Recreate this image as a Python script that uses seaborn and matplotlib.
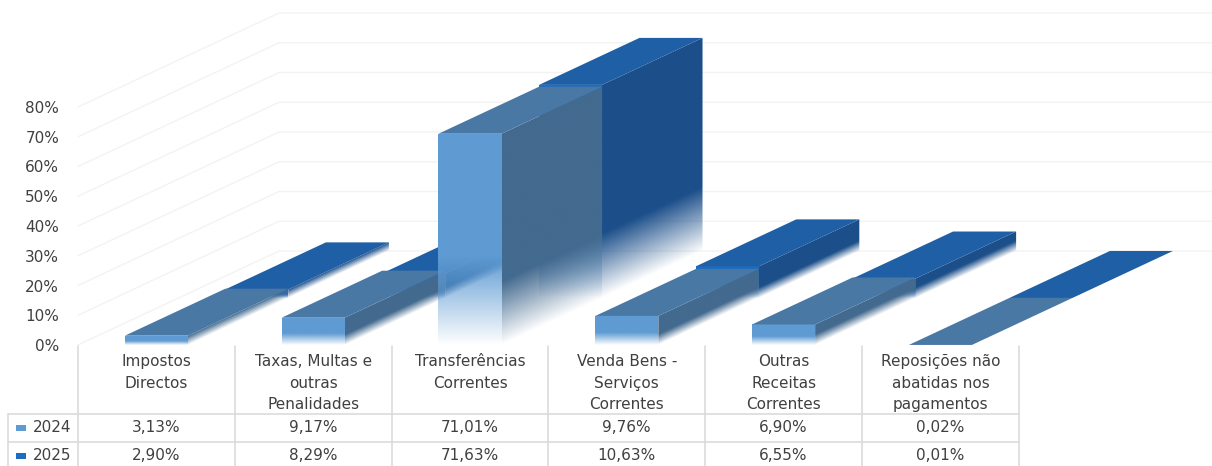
import numpy as np
import pandas as pd
import seaborn as sns
import matplotlib.pyplot as plt
from matplotlib.lines import Line2D
from matplotlib.patches import Polygon, Rectangle
from matplotlib.colors import to_rgb
from matplotlib.transforms import blended_transform_factory

categories = [
    "Impostos\nDirectos",
    "Taxas, Multas e\noutras\nPenalidades",
    "Transferências\nCorrentes",
    "Venda Bens -\nServiços\nCorrentes",
    "Outras\nReceitas\nCorrentes",
    "Reposições não\nabatidas nos\npagamentos",
]
years = ["2024", "2025"]
values_2024 = [3.13, 9.17, 71.01, 9.76, 6.90, 0.02]
values_2025 = [2.90, 8.29, 71.63, 10.63, 6.55, 0.01]
y_ticks = [0, 10, 20, 30, 40, 50, 60, 70, 80]

W, H = 1212, 466
SLOT = 156.8      # px per category
PER_PCT = 2.975   # px per percent
LEFT, FLOOR = 78, 345

# depth of one series in data units (oblique projection)
DX = 100.5 / SLOT
DY = 47 / PER_PCT

colors = {
    "2024": {"front": "#5f9bd3", "top": "#4a78a5", "side": "#436a8f"},
    "2025": {"front": "#1f6dc0", "top": "#1f5fa5", "side": "#1c4f8a"},
}
TEXT = "#404040"
GRID = "#f3f3f3"
TABLE = "#d9d9d9"

sns.set_theme(style="white")
plt.rcParams["font.family"] = ["DejaVu Sans"]

fig = plt.figure(figsize=(W / 100, H / 100), dpi=100)
ax = fig.add_axes([LEFT / W, 1 - FLOOR / H, 1 - LEFT / W, FLOOR / H])
ax.patch.set_alpha(0)

df = pd.DataFrame({
    "categoria": categories * 2,
    "ano": ["2024"] * 6 + ["2025"] * 6,
    "valor": values_2024 + values_2025,
})

# the flat bars give the geometry, the 3D faces are built from them below
sns.barplot(data=df, x="categoria", y="valor", hue="ano", hue_order=years,
            dodge=False, width=0.402, legend=False, ax=ax)

xlim = (-0.5, -0.5 + (W - LEFT) / SLOT)
ylim = (0, FLOOR / PER_PCT)


def fade_face(corners, color, x_edge, slope, base, fade, z):
    # face that goes transparent towards its lower edge
    corners = np.array(corners)
    x0, x1 = corners[:, 0].min(), corners[:, 0].max()
    y0, y1 = corners[:, 1].min(), corners[:, 1].max()
    if fade <= 0 or y1 <= y0:
        return
    xs, ys = np.meshgrid(np.linspace(x0, x1, 300), np.linspace(y0, y1, 600))
    low = base + (xs - x_edge) * slope
    alpha = np.clip((ys - low) / fade, 0, 1)
    img = np.zeros(xs.shape + (4,))
    img[..., :3] = to_rgb(color)
    img[..., 3] = alpha
    im = ax.imshow(img, extent=(x0, x1, y0, y1), origin="lower", aspect="auto",
                   interpolation="bilinear", zorder=z)
    im.set_clip_path(Polygon(corners, closed=True, transform=ax.transData))


# back wall and side wall grid
for t in y_ticks:
    ax.plot([-0.5, -0.5 + 2 * DX, xlim[1]], [t, t + 2 * DY, t + 2 * DY],
            color=GRID, lw=1.0, zorder=1, clip_on=False)

# painter's order: left to right, back series first
z = 2
bars = {year: cont for year, cont in zip(years, ax.containers)}
for i in range(len(categories)):
    for s, year in reversed(list(enumerate(years))):
        bar = bars[year][i]
        bar.set_visible(False)
        c = colors[year]
        x0 = bar.get_x() + s * DX
        x1 = x0 + bar.get_width()
        b = s * DY
        h = bar.get_height()
        t = b + h
        if h > 0.1:
            side = [(x1, b), (x1 + DX, b + DY), (x1 + DX, t + DY), (x1, t)]
            fade_face(side, c["side"], x1, DY / DX, b, max(0.3 * h, min(h, 3.5)), z)
            front = [(x0, b), (x1, b), (x1, t), (x0, t)]
            fade_face(front, c["front"], x0, 0, b, 0.42 * h, z + 1)
        ax.add_patch(Polygon([(x0, t), (x1, t), (x1 + DX, t + DY), (x0 + DX, t + DY)],
                             closed=True, facecolor=c["top"], edgecolor="none", zorder=z + 2))
        z += 3

ax.set_xlim(*xlim)
ax.set_ylim(*ylim)
ax.set_yticks(y_ticks)
ax.set_yticklabels([f"{t}%" for t in y_ticks], color=TEXT, fontsize=11)
ax.set_xticks([])
ax.set_xlabel("")
ax.set_ylabel("")
ax.tick_params(axis="y", length=0, pad=13.5)
sns.despine(ax=ax, left=True, bottom=True)


# data table under the axes
def fy(py):
    return 1 - py / H


tr = blended_transform_factory(ax.transData, fig.transFigure)
n = len(categories)
for i in range(n + 1):
    fig.add_artist(Line2D([i - 0.5, i - 0.5], [fy(346), fy(466)], transform=tr,
                          color=TABLE, lw=1.1))
for py in (414, 442):
    fig.add_artist(Line2D([8 / W, (LEFT + n * SLOT) / W], [fy(py), fy(py)],
                          color=TABLE, lw=1.1))
fig.add_artist(Line2D([8 / W, 8 / W], [fy(414), fy(466)], color=TABLE, lw=1.1))

for i, cat in enumerate(categories):
    fig.text(i, fy(354), cat, transform=tr, ha="center", va="top",
             color=TEXT, fontsize=11, linespacing=1.56)

for year, vals, py in zip(years, [values_2024, values_2025], (428, 456)):
    for i, v in enumerate(vals):
        fig.text(i, fy(py), f"{v:.2f}%".replace(".", ","), transform=tr,
                 ha="center", va="center", color=TEXT, fontsize=11)
    fig.text(33 / W, fy(py), year, ha="left", va="center", color=TEXT, fontsize=11)
    fig.add_artist(Rectangle((16 / W, fy(py + 3)), 10 / W, 6 / H, transform=fig.transFigure,
                             facecolor=colors[year]["front"], edgecolor="none"))

fig.savefig("out.png", dpi=100)
